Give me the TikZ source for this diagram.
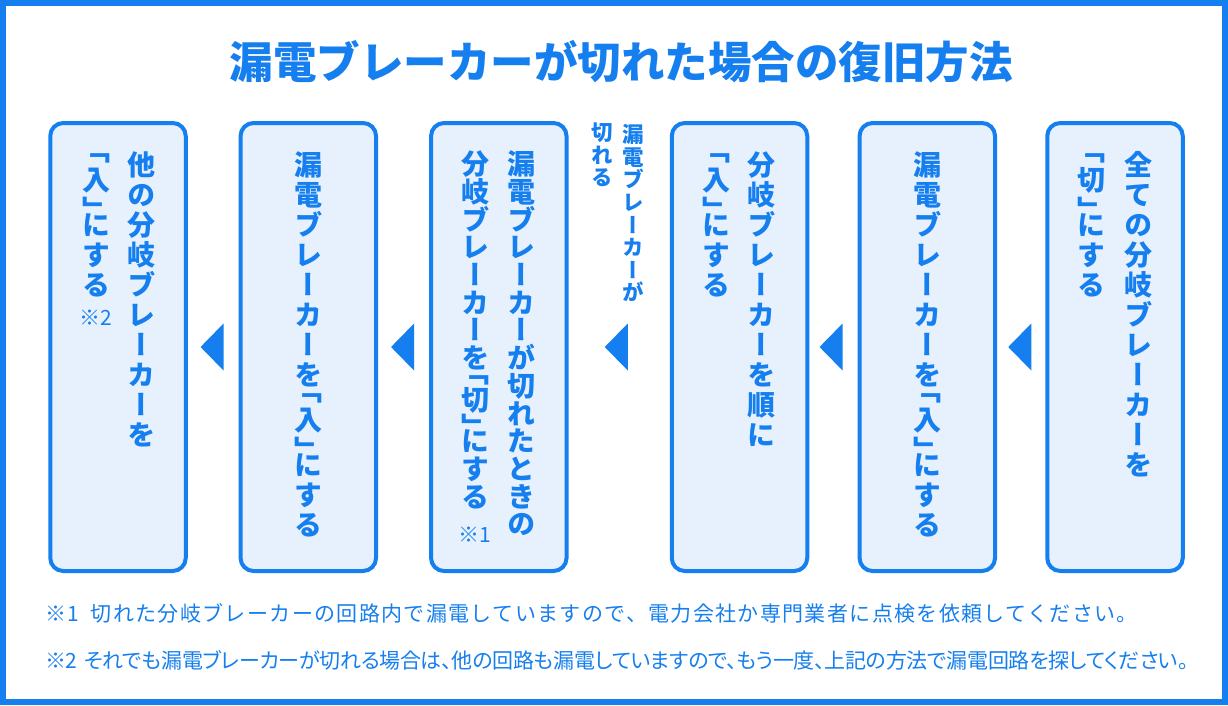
\documentclass[tikz,border=0pt]{standalone}
\usepackage{fontspec}
\setmainfont{Noto Sans CJK JP}
\newfontfamily\jpv[RawFeature=+vert]{Noto Sans CJK JP}
\newfontfamily\jpp[RawFeature=+palt]{Noto Sans CJK JP}
\definecolor{mainblue}{RGB}{22,127,239}
\definecolor{boxfill}{RGB}{231,241,253}

\makeatletter
\newdimen\vc@adv \newdimen\vc@b \newdimen\vc@bb \newdimen\vc@half
\newcommand\vcol[2]{%
 \vbox{\offinterlineskip\vc@adv=#1\relax
   \vc@half=0.5\vc@adv
   \vc@b=\dimexpr 0.5\vc@adv-0.38em\relax
   \vc@bb=\dimexpr -0.38em\relax
   \vc@loop#2\relax}}
\def\vc@loop#1{\ifx\relax#1\else\vc@one{#1}\expandafter\vc@loop\fi}
\def\vc@open{「}\def\vc@close{」}
\def\vc@one#1{\def\vc@t{#1}%
 \ifx\vc@t\vc@open
   \vbox to \vc@half{\vfil\hbox to 1.2em{\hss\smash{#1}\hss}\vskip\vc@b}%
 \else\ifx\vc@t\vc@close
   \vbox to \vc@half{\vfil\hbox to 1.2em{\hss\smash{#1}\hss}\vskip\vc@bb}%
 \else
   \vbox to \vc@adv{\vfil\hbox to 1.2em{\hss\smash{#1}\hss}\vskip\vc@b}%
 \fi\fi}
\makeatother

\tikzset{
  stepbox/.style={draw=mainblue, fill=boxfill, line width=4pt, rounded corners=13pt,
    minimum width=135.5pt, minimum height=448pt, inner sep=0pt},
  coltext/.style={anchor=north, inner sep=0pt, text=mainblue,
    font=\jpv\bfseries\fontsize{28}{28}\selectfont},
  labtext/.style={anchor=north, inner sep=0pt, text=mainblue,
    font=\jpv\bfseries\fontsize{21.5}{21.5}\selectfont},
  notemark/.style={inner sep=0pt, text=mainblue, font=\fontsize{21}{21}\selectfont},
  footnote/.style={anchor=west, inner sep=0pt, text=mainblue},
  arrowtri/.style={fill=mainblue},
}

\begin{document}
\begin{tikzpicture}[x=1pt,y=-1pt]
\useasboundingbox (0,0) rectangle (1228,705);
\fill[white] (0,0) rectangle (1228,705);
\draw[line width=6pt, mainblue] (3,3) rectangle (1225,702);

\node[text=mainblue, inner sep=0pt, font=\bfseries\fontsize{43.5}{43.5}\selectfont] (title) at (621,62) {漏電ブレーカーが切れた場合の復旧方法};

% boxes
\node[stepbox] (b1) at (118,347) {};
\node[stepbox] (b2) at (308.3,347) {};
\node[stepbox] (b3) at (498.8,347) {};
\node[stepbox] (b4) at (739.5,347) {};
\node[stepbox] (b5) at (927.3,347) {};
\node[stepbox] (b6) at (1115,347) {};

% box 1
\node[coltext] (t1a) at (141,150) {\vcol{30pt}{他の分岐ブレーカーを}};
\node[coltext] (t1b) at (96,150) {\vcol{30pt}{「入」にする}};
\node[notemark] (m2) at (96,318) {※2};
% box 2
\node[coltext] (t2a) at (308.3,150) {\vcol{30pt}{漏電ブレーカーを「入」にする}};
% box 3
\node[coltext] (t3a) at (521,150) {\vcol{27.7pt}{漏電ブレーカーが切れたときの}};
\node[coltext] (t3b) at (475,150) {\vcol{27.7pt}{分岐ブレーカーを「切」にする}};
\node[notemark] (m1) at (475,535) {※1};
% label between 3 and 4
\node[labtext] (l1) at (633,123) {\vcol{22.6pt}{漏電ブレーカーが}};
\node[labtext] (l2) at (602,121) {\vcol{22.6pt}{切れる}};
% box 4
\node[coltext] (t4a) at (761,150) {\vcol{30pt}{分岐ブレーカーを順に}};
\node[coltext] (t4b) at (716,150) {\vcol{30pt}{「入」にする}};
% box 5
\node[coltext] (t5a) at (927.3,150) {\vcol{30pt}{漏電ブレーカーを「入」にする}};
% box 6
\node[coltext] (t6a) at (1138,150) {\vcol{30pt}{全ての分岐ブレーカーを}};
\node[coltext] (t6b) at (1091,150) {\vcol{30pt}{「切」にする}};

% arrows (triangles pointing left)
\fill[arrowtri] (b2.west) ++(-15,-23.5) -- ++(0,47) -- ++(-23,-23.5) -- cycle;
\fill[arrowtri] (b3.west) ++(-15,-23.5) -- ++(0,47) -- ++(-23,-23.5) -- cycle;
\fill[arrowtri] (b4.west) ++(-42,-23.5) -- ++(0,47) -- ++(-23,-23.5) -- cycle;
\fill[arrowtri] (b5.west) ++(-15,-23.5) -- ++(0,47) -- ++(-23,-23.5) -- cycle;
\fill[arrowtri] (b6.west) ++(-14,-23.5) -- ++(0,47) -- ++(-23,-23.5) -- cycle;

% footnotes
\node[footnote, font=\fontsize{21}{21}\selectfont\addfontfeature{LetterSpace=6.5}] (f1) at (45,613) {※1\hspace{0.55em}切れた分岐ブレーカーの回路内で漏電していますので、電力会社か専門業者に点検を依頼してください。};
\node[footnote, font=\jpp\fontsize{21}{21}\selectfont\addfontfeature{LetterSpace=-1.3}] (f2) at (45,660) {※2\hspace{0.3em}それでも漏電ブレーカーが切れる場合は、他の回路も漏電していますので、もう一度、上記の方法で漏電回路を探してください。};
\end{tikzpicture}
\end{document}
